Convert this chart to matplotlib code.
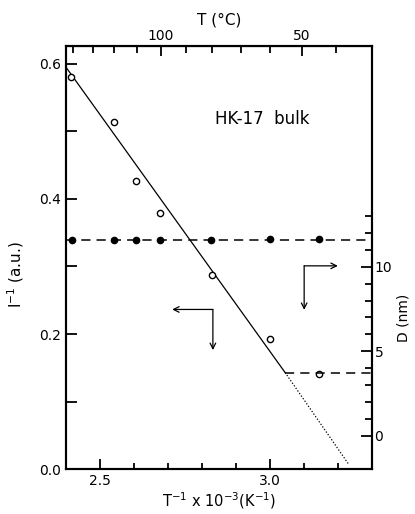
import numpy as np
import matplotlib
matplotlib.use("Agg")
import matplotlib.pyplot as plt
from matplotlib.ticker import FixedLocator, FormatStrFormatter, NullFormatter

# open circles: I^-1 (a.u.) vs 1000/T
inv_x = [2.416, 2.541, 2.606, 2.678, 2.831, 3.001, 3.145]
inv_y = [0.580, 0.514, 0.427, 0.379, 0.288, 0.192, 0.141]

# linear fit (solid part, then dotted extrapolation)
fit_x = [2.403, 3.045]
fit_y = [0.594, 0.143]
ext_x = [3.045, 3.232]
ext_y = [0.143, 0.007]

# filled circles: D (nm)
d_x = [2.418, 2.541, 2.608, 2.678, 2.828, 3.001, 3.146]
d_y = [11.58, 11.58, 11.60, 11.60, 11.60, 11.66, 11.62]
d_line_x = [2.4, 3.3]
d_line_y = [11.6, 11.6]
d2_line_x = [3.045, 3.3]
d2_line_y = [3.73, 3.73]

celsius_major = [100, 50]
celsius_minor = [140, 130, 120, 110, 90, 80, 70, 60, 40]

plt.rcParams['font.family'] = 'DejaVu Sans'
plt.rcParams['font.size'] = 10

fig = plt.figure(figsize=(4.15, 5.14), dpi=100)
ax = fig.add_axes([0.158, 0.0875, 0.738, 0.8235])

ax.plot(fit_x, fit_y, color='black', lw=0.9)
ax.plot(ext_x, ext_y, color='black', lw=0.9, ls=(0, (1, 1.5)))
ax.plot(inv_x, inv_y, 'o', mfc='white', mec='black', ms=4.5, mew=1.0, zorder=5)

ax.set_xlim(2.4, 3.3)
ax.set_ylim(0.0, 0.627)
ax.set_xticks([2.5, 3.0])
ax.xaxis.set_minor_locator(FixedLocator([2.6, 2.7, 2.8, 2.9, 3.1, 3.2]))
ax.set_yticks([0.0, 0.2, 0.4, 0.6])
ax.yaxis.set_minor_locator(FixedLocator([0.1, 0.3, 0.5]))
ax.yaxis.set_major_formatter(FormatStrFormatter('%.1f'))
ax.tick_params(axis='x', which='major', direction='in', length=7, width=1.3)
ax.tick_params(axis='x', which='minor', direction='in', length=4, width=1.3)
ax.tick_params(axis='y', which='both', direction='in', length=8, width=1.3)
for s in ax.spines.values():
    s.set_linewidth(1.5)

ax.set_xlabel(r'T$^{-1}$ x 10$^{-3}$(K$^{-1}$)', fontsize=10.5, labelpad=2)
ax.set_ylabel(r'I$^{-1}$ (a.u.)', fontsize=11)
ax.yaxis.set_label_coords(-0.13, 0.46)

# right axis: D (nm)
ax2 = ax.twinx()
ax2.plot(d_line_x, d_line_y, color='black', lw=1.1, ls=(0, (6, 4)))
ax2.plot(d2_line_x, d2_line_y, color='black', lw=1.1, ls=(0, (6, 4)))
ax2.plot(d_x, d_y, 'o', color='black', ms=4.5, zorder=5)
ax2.set_ylim(-1.97, 23.08)
ax2.set_yticks([0, 5, 10])
ax2.yaxis.set_minor_locator(FixedLocator([1, 2, 3, 4, 6, 7, 8, 9, 11, 12, 13]))
ax2.tick_params(axis='y', which='major', direction='in', length=8, width=1.3, pad=2)
ax2.tick_params(axis='y', which='minor', direction='in', length=5, width=1.3)
ax2.set_ylabel('D (nm)', fontsize=10)
ax2.yaxis.set_label_coords(1.082, 0.357)
for s in ax2.spines.values():
    s.set_linewidth(1.5)

# top axis: T (deg C)
top = ax.secondary_xaxis('top', functions=(lambda x: 1000.0 / np.maximum(x, 1e-6) - 273.15,
                                           lambda c: 1000.0 / (c + 273.15)))
top.xaxis.set_major_locator(FixedLocator(celsius_major))
top.xaxis.set_minor_locator(FixedLocator(celsius_minor))
top.xaxis.set_minor_formatter(NullFormatter())
top.tick_params(axis='x', which='major', direction='in', length=7, width=1.3, pad=2)
top.tick_params(axis='x', which='minor', direction='in', length=5, width=1.3)
top.set_xlabel('T (°C)', fontsize=11, labelpad=3)

ax.text(0.643, 0.827, 'HK-17  bulk', transform=ax.transAxes, fontsize=12,
        ha='center', va='center')

# arrows telling which axis each series belongs to
arrow_kw = dict(arrowstyle='->', color='black', lw=0.9, shrinkA=0, shrinkB=0)
ax.annotate('', xy=(0.348, 0.377), xytext=(0.481, 0.377), xycoords='axes fraction', arrowprops=arrow_kw)
ax.annotate('', xy=(0.481, 0.281), xytext=(0.481, 0.377), xycoords='axes fraction', arrowprops=arrow_kw)
ax.annotate('', xy=(0.889, 0.480), xytext=(0.779, 0.480), xycoords='axes fraction', arrowprops=arrow_kw)
ax.annotate('', xy=(0.779, 0.376), xytext=(0.779, 0.480), xycoords='axes fraction', arrowprops=arrow_kw)

fig.savefig('out.png', dpi=100)
